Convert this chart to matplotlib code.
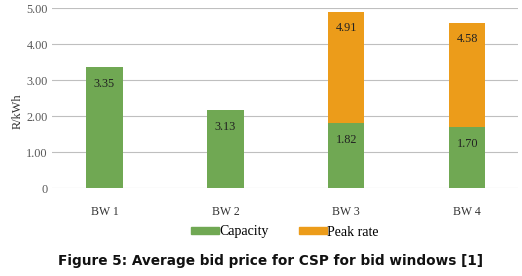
import matplotlib
matplotlib.use("Agg")
import matplotlib.pyplot as plt
from matplotlib.patches import Patch

# ---------- Data ----------
windows = ["BW 1", "BW 2", "BW 3", "BW 4"]
capacity = [3.37, 2.17, 1.82, 1.70]
peak_rate = [0, 0, 3.09, 2.88]
capacity_labels = ["3.35", "3.13", "1.82", "1.70"]
total_labels = ["", "", "4.91", "4.58"]
yticks = [0, 1, 2, 3, 4, 5]
ytick_labels = ["0", "1.00", "2.00", "3.00", "4.00", "5.00"]

GREEN = "#70A853"
ORANGE = "#EC9C1A"
SERIF = ["Liberation Serif", "DejaVu Serif"]

W, H = 522, 276
fig = plt.figure(figsize=(W / 100, H / 100), dpi=100)
ax = fig.add_axes([52 / W, 1 - 188.3 / H, 466 / W, 180 / H])

x = list(range(len(windows)))
ax.bar(x, capacity, width=0.3, color=GREEN, zorder=3)
ax.bar(x, peak_rate, width=0.3, bottom=capacity, color=ORANGE, zorder=3)

for i in x:
    ax.annotate(capacity_labels[i], (i, capacity[i]), xytext=(0, -17),
                textcoords="offset pixels", ha="center", va="center",
                fontsize=8.8, family=SERIF, color="#222222", zorder=4)
    if total_labels[i]:
        top = capacity[i] + peak_rate[i]
        ax.annotate(total_labels[i], (i, top), xytext=(0, -16),
                    textcoords="offset pixels", ha="center", va="center",
                    fontsize=8.8, family=SERIF, color="#222222", zorder=4)

ax.set_xlim(-0.434, 3.42)
ax.set_ylim(0, 5)
ax.set_yticks(yticks)
ax.set_yticklabels(ytick_labels, family=SERIF, fontsize=8.8, color="#595959")
ax.set_xticks(x)
ax.set_xticklabels(windows, family=SERIF, fontsize=8.5, color="#333333")
ax.tick_params(length=0, pad=3)
ax.tick_params(axis="x", pad=13)
ax.grid(axis="y", color="#BFBFBF", linewidth=0.8, zorder=0)
for s in ax.spines.values():
    s.set_visible(False)
ax.set_ylabel("R/kWh", family=SERIF, fontsize=8.8, color="#333333")
ax.yaxis.set_label_coords(-28 / 466, (188.3 - 111) / 180)

handles = [Patch(color=GREEN, label="Capacity"), Patch(color=ORANGE, label="Peak rate")]
fig.legend(handles=handles, loc="center", bbox_to_anchor=(285 / W, 1 - 232 / H),
           ncol=2, frameon=False, handlelength=2.0, handleheight=0.45,
           handletextpad=0.0, columnspacing=2.2,
           prop={"family": SERIF, "size": 10})

fig.text(270 / W, 1 - 261 / H, "Figure 5: Average bid price for CSP for bid windows [1]",
         ha="center", va="center", fontsize=9.8, fontweight="bold",
         family="DejaVu Sans", color="#111111")

fig.savefig("out.png", dpi=100)
